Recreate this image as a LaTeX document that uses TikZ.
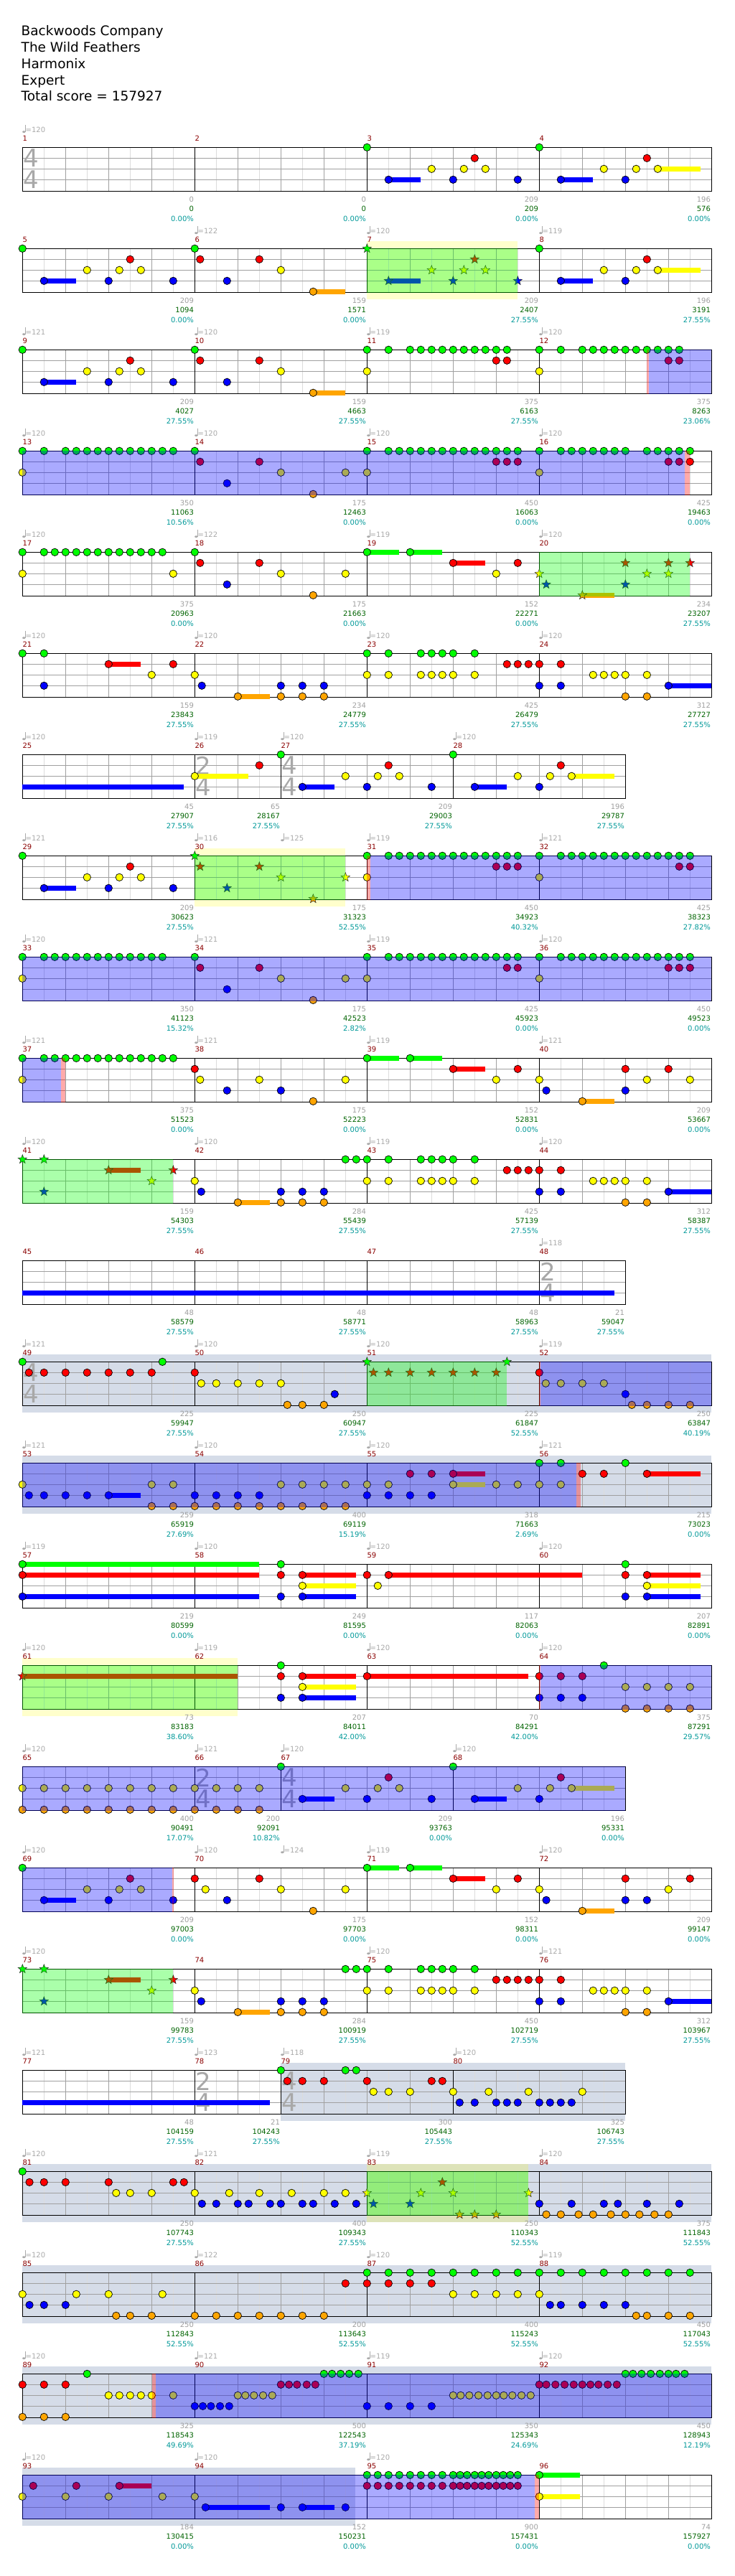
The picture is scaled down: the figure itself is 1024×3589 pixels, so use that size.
\documentclass[tikz,border=0pt]{standalone}
\usepackage{fontspec}
\setmainfont{DejaVu Sans}
\usetikzlibrary{shapes.geometric}
\definecolor{cG}{RGB}{0,255,0}
\definecolor{cR}{RGB}{255,0,0}
\definecolor{cY}{RGB}{255,255,0}
\definecolor{cB}{RGB}{0,0,255}
\definecolor{cO}{RGB}{255,165,0}
\definecolor{gridA}{RGB}{160,160,160}
\definecolor{gridB}{RGB}{220,220,220}
\definecolor{bandgray}{RGB}{213,220,232}
\definecolor{numgray}{RGB}{160,160,160}
\definecolor{numgreen}{RGB}{0,100,0}
\definecolor{numteal}{RGB}{0,153,153}
\definecolor{mnumc}{RGB}{139,0,0}
\definecolor{tsgray}{RGB}{168,168,168}
\definecolor{tempoc}{RGB}{170,170,170}
\newcommand\smallf{\fontsize{10}{10}\selectfont}
\newcommand\titlef{\fontsize{18.5}{20}\selectfont}
\def\yG{0}\def\yR{15}\def\yY{30}\def\yB{45}\def\yO{60}
\tikzset{
  starnote/.style={star,star points=5,star point ratio=2.4,minimum size=13pt,inner sep=0pt,draw=black!85,line width=0.5pt},
  mnum/.style={anchor=base west,inner sep=0pt,font=\smallf,text=mnumc},
  ngray/.style={anchor=base east,inner sep=0pt,font=\smallf,text=numgray},
  ngreen/.style={anchor=base east,inner sep=0pt,font=\smallf,text=numgreen},
  nteal/.style={anchor=base east,inner sep=0pt,font=\smallf,text=numteal},
  tsig/.style={inner sep=0pt,font=\fontsize{34}{34}\selectfont,text=tsgray},
  titletext/.style={anchor=base west,inner sep=0pt,font=\titlef,text=black}
}
\newcommand\zn[2]{\foreach \k in {#2}{\draw[line width=0.7pt,fill=c#1] ({31.3+15*\k},\csname y#1\endcsname) circle (5.2);}}
\newcommand\zst[2]{\foreach \k in {#2}{\node[starnote,fill=c#1] at ({31.3+15*\k},\csname y#1\endcsname) {};}}
\newcommand\zsus[3]{\fill[c#1] ({31.3+15*#2},{\csname y#1\endcsname-3.5}) rectangle ({31.3+15*#3},{\csname y#1\endcsname+3.5});}
\newcommand\zod[2]{\fill[cB,opacity=0.3333] ({31.3+15*#1},-0.6) rectangle ({31.3+15*#2},61.6);}
\newcommand\zsp[2]{\fill[cG,opacity=0.3333] ({31.3+15*#1},-0.6) rectangle ({31.3+15*#2},61.6);}
\newcommand\zpk[2]{\fill[cR,opacity=0.3333] ({31.3+15*#1},-0.6) rectangle ({31.3+15*#2},61.6);}
\newcommand\zgb[2]{\fill[bandgray] ({31.3+15*#1},-10) rectangle ({31.3+15*#2},71);}
\newcommand\zyb[2]{\fill[cY,opacity=0.2] ({31.3+15*#1},-10) rectangle ({31.3+15*#2},71);}
\newcommand\zts[3]{\node[tsig] at ({31.3+15*#1+12},15.2) {#2};\node[tsig] at ({31.3+15*#1+12},45.2) {#3};}
\newcommand\ztp[2]{%
  \fill[tempoc] ({31.3+15*#1+1.9},-21.6) ellipse (2 and 1.5);
  \draw[tempoc,line width=0.8pt] ({31.3+15*#1+3.6},-21.6) -- ({31.3+15*#1+3.6},-31);
  \node[anchor=base west,inner sep=0pt,font=\smallf,text=tempoc] at ({31.3+15*#1+4.2},-20.6) {=#2};}
\newcommand\zms[7]{%
  \node[mnum] at ({31.3+15*#1},-8.4) {#3};
  \if\relax\detokenize{#4}\relax\else\ztp{#1}{#4}\fi
  \node[ngray] at ({31.3+15*#2-1.2},76) {#5};
  \node[ngreen] at ({31.3+15*#2-1.2},89.4) {#6};
  \node[nteal] at ({31.3+15*#2-1.2},102.7) {#7};}
\newcommand\zstaff[2]{%
  \pgfmathsetmacro\zxe{31.3+15*#1}%
  \pgfmathtruncatemacro\zne{#1/2-1}%
  \foreach \j in {1,...,\zne}{\ifodd\j\relax \draw[gridB,line width=0.8pt] ({31.3+30*\j},0) -- ({31.3+30*\j},61);\fi}%
  \foreach \yy in {15,30,45}{\draw[gridA,line width=0.9pt] (31.3,\yy) -- (\zxe,\yy);}%
  \foreach \j in {1,...,\zne}{\ifodd\j\relax\else \draw[gridA,line width=0.8pt] ({31.3+30*\j},0) -- ({31.3+30*\j},61);\fi}%
  \foreach \m in {#2}{\draw[black,line width=0.8pt] ({31.3+15*\m},0) -- ({31.3+15*\m},61);}%
  \draw[black,line width=1.2pt] (31.3,0) rectangle (\zxe,61);}
\begin{document}
\begin{tikzpicture}[x=1pt,y=-1pt]
\useasboundingbox (0,0) rectangle (1024,3589);
\fill[white] (0,0) rectangle (1024,3589);
\node[titletext] (t1) at (29.5,49.5) {Backwoods Company};
\node[titletext] (t2) at (29.5,72.5) {The Wild Feathers};
\node[titletext] (t3) at (29.5,95.5) {Harmonix};
\node[titletext] (t4) at (29.5,118.5) {Expert};
\node[titletext] (t5) at (29.5,141) {Total score = 157927};
% Row 1
\begin{scope}[shift={(0,205.3)}]
\zstaff{64}{16,32,48}
\zts{0}{4}{4}
\zsus{Y}{59}{63}\zsus{B}{34}{37}\zsus{B}{50}{53}
\zn{G}{32,48}\zn{R}{42,58}\zn{Y}{38,41,43,54,57,59}\zn{B}{34,40,46,50,56}
\zms{0}{16}{1}{120}{0}{0}{0.00\%}
\zms{16}{32}{2}{}{0}{0}{0.00\%}
\zms{32}{48}{3}{}{209}{209}{0.00\%}
\zms{48}{64}{4}{}{196}{576}{0.00\%}
\end{scope}
% Row 2
\begin{scope}[shift={(0,346.3)}]
\zyb{32}{46}
\zstaff{64}{16,32,48}
\zsus{B}{2}{5}\zsus{O}{27}{30}\zsus{B}{34}{37}\zsus{B}{50}{53}\zsus{Y}{59}{63}
\zn{G}{0,16,48}\zn{R}{10,16.5,22,58}\zn{Y}{6,9,11,24,54,57,59}\zn{B}{2,8,14,19,50,56}\zn{O}{27}
\zst{G}{32}\zst{R}{42}\zst{Y}{38,41,43}\zst{B}{34,40,46}
\zsp{32}{46}
\zms{0}{16}{5}{}{209}{1094}{0.00\%}
\zms{16}{32}{6}{122}{159}{1571}{0.00\%}
\zms{32}{48}{7}{120}{209}{2407}{27.55\%}
\zms{48}{64}{8}{119}{196}{3191}{27.55\%}
\end{scope}
% Row 3
\begin{scope}[shift={(0,487.3)}]
\zstaff{64}{16,32,48}
\zsus{B}{2}{5}\zsus{O}{27}{30}
\zn{G}{0,16,32,34,36,37,38,39,40,41,42,43,44,45,48,50,52,53,54,55,56,57,58,59,60,61}
\zn{R}{10,16.5,22,44,45,60,61}
\zn{Y}{6,9,11,24,32,48}
\zn{B}{2,8,14,19}
\zn{O}{27}
\zpk{57.95}{58.21}\zod{58.21}{64}
\zms{0}{16}{9}{121}{209}{4027}{27.55\%}
\zms{16}{32}{10}{120}{159}{4663}{27.55\%}
\zms{32}{48}{11}{119}{375}{6163}{27.55\%}
\zms{48}{64}{12}{120}{375}{8263}{23.06\%}
\end{scope}
% Row 4
\begin{scope}[shift={(0,628.3)}]
\zstaff{64}{16,32,48}
\zn{G}{0,2,4,5,6,7,8,9,10,11,12,13,14,16,32,34,35,36,37,38,39,40,41,42,43,44,45,46,48,50,51,52,53,54,55,56,58,59,60,61,62}
\zn{R}{16.5,22,44,45,46,60,61,62}
\zn{Y}{0,24,30,32,48}
\zn{B}{19}
\zn{O}{27}
\zod{0}{61.51}\zpk{61.51}{61.98}
\zms{0}{16}{13}{120}{350}{11063}{10.56\%}
\zms{16}{32}{14}{120}{175}{12463}{0.00\%}
\zms{32}{48}{15}{120}{450}{16063}{0.00\%}
\zms{48}{64}{16}{120}{425}{19463}{0.00\%}
\end{scope}
% Row 5
\begin{scope}[shift={(0,769.3)}]
\zstaff{64}{16,32,48}
\zsus{G}{32}{35}\zsus{G}{36}{39}\zsus{R}{40}{43}\zsus{O}{52}{55}
\zn{G}{0,2,3,4,5,6,7,8,9,10,11,12,13,16,32,36}
\zn{R}{16.5,22,40,46}
\zn{Y}{0,14,24,30,44}
\zn{B}{19}
\zn{O}{27}
\zst{R}{56,60,62}\zst{Y}{48,58,60}\zst{B}{48.65,56}\zst{O}{52}
\zsp{48}{62}
\zms{0}{16}{17}{120}{375}{20963}{0.00\%}
\zms{16}{32}{18}{122}{175}{21663}{0.00\%}
\zms{32}{48}{19}{119}{152}{22271}{0.00\%}
\zms{48}{64}{20}{120}{234}{23207}{27.55\%}
\end{scope}
% Row 6
\begin{scope}[shift={(0,910.3)}]
\zstaff{64}{16,32,48}
\zsus{R}{8}{11}\zsus{O}{20}{23}\zsus{B}{60}{64}
\zn{G}{0,2,32,34,37,38,39,40,42}
\zn{R}{8,14,45,46,47,48,50}
\zn{Y}{12,16,32,34,37,38,39,40,42,53,54,55,56,58}
\zn{B}{2,16.66,24,26,28,48,50,60}
\zn{O}{20,24,26,28,56,58}
\zms{0}{16}{21}{120}{159}{23843}{27.55\%}
\zms{16}{32}{22}{120}{234}{24779}{27.55\%}
\zms{32}{48}{23}{120}{425}{26479}{27.55\%}
\zms{48}{64}{24}{120}{312}{27727}{27.55\%}
\end{scope}
% Row 7
\begin{scope}[shift={(0,1051.3)}]
\zstaff{56}{16,24,40}
\zts{16}{2}{4}\zts{24}{4}{4}
\zsus{B}{0}{15}\zsus{Y}{16}{21}\zsus{B}{26}{29}\zsus{B}{42}{45}\zsus{Y}{51}{55}
\zn{G}{24,40}
\zn{R}{22,34,50}
\zn{Y}{16,30,33,35,46,49,51}
\zn{B}{26,32,38,42,48}
\zms{0}{16}{25}{120}{45}{27907}{27.55\%}
\zms{16}{24}{26}{119}{65}{28167}{27.55\%}
\zms{24}{40}{27}{120}{209}{29003}{27.55\%}
\zms{40}{56}{28}{120}{196}{29787}{27.55\%}
\end{scope}
% Row 8
\begin{scope}[shift={(0,1192.3)}]
\zyb{16}{30}
\zstaff{64}{16,32,48}
\zsus{B}{2}{5}
\zn{G}{0,32,34,35,36,37,38,39,40,41,42,43,44,45,46,48,50,51,52,53,54,55,56,57,58,59,60,61,62}
\zn{R}{10,44,45,46,61,62}
\zn{Y}{6,9,11,32,48}
\zn{B}{2,8,14}
\zst{G}{16}\zst{R}{16.5,22}\zst{Y}{24,30}\zst{B}{19}\zst{O}{27}
\zsp{16}{30}
\zpk{32}{32.28}\zod{32.28}{64}
\zms{0}{16}{29}{121}{209}{30623}{27.55\%}
\zms{16}{32}{30}{116}{175}{31323}{52.55\%}
\ztp{24}{125}
\zms{32}{48}{31}{119}{450}{34923}{40.32\%}
\zms{48}{64}{32}{121}{425}{38323}{27.82\%}
\end{scope}
% Row 9
\begin{scope}[shift={(0,1333.3)}]
\zstaff{64}{16,32,48}
\zn{G}{0,2,3,4,5,6,7,8,9,10,11,12,13,16,32,34,35,36,37,38,39,40,41,42,43,44,45,46,48,50,51,52,53,54,55,56,57,58,59,60,61,62}
\zn{R}{16.5,22,45,46,60,61,62}
\zn{Y}{0,24,30,32,48}
\zn{B}{19}
\zn{O}{27}
\zod{0}{64}
\zms{0}{16}{33}{120}{350}{41123}{15.32\%}
\zms{16}{32}{34}{121}{175}{42523}{2.82\%}
\zms{32}{48}{35}{119}{425}{45923}{0.00\%}
\zms{48}{64}{36}{120}{450}{49523}{0.00\%}
\end{scope}
% Row 10
\begin{scope}[shift={(0,1474.3)}]
\zstaff{64}{16,32,48}
\zsus{G}{32}{35}\zsus{G}{36}{39}\zsus{R}{40}{43}\zsus{O}{52}{55}
\zn{G}{0,2,3,4,5,6,7,8,9,10,11,12,13,14,32,36}
\zn{R}{16,40,46,56,60}
\zn{Y}{0,16.5,22,30,44,48,58,62}
\zn{B}{19,24,48.65,56}
\zn{O}{27,52}
\zod{0}{3.58}\zpk{3.58}{4.0}
\zms{0}{16}{37}{121}{375}{51523}{0.00\%}
\zms{16}{32}{38}{121}{175}{52223}{0.00\%}
\zms{32}{48}{39}{119}{152}{52831}{0.00\%}
\zms{48}{64}{40}{121}{209}{53667}{0.00\%}
\end{scope}
% Row 11
\begin{scope}[shift={(0,1615.3)}]
\zstaff{64}{16,32,48}
\zsus{R}{8}{11}\zsus{O}{20}{23}\zsus{B}{60}{64}
\zst{G}{0,2}\zst{R}{8,14}\zst{Y}{12}\zst{B}{2}
\zn{G}{30,31,32,34,37,38,39,40,42}
\zn{R}{45,46,47,48,50}
\zn{Y}{16,32,34,37,38,39,40,42,53,54,55,56,58}
\zn{B}{16.6,24,26,28,48,50,60}
\zn{O}{20,24,26,28,56,58}
\zsp{0}{14}
\zms{0}{16}{41}{120}{159}{54303}{27.55\%}
\zms{16}{32}{42}{120}{284}{55439}{27.55\%}
\zms{32}{48}{43}{119}{425}{57139}{27.55\%}
\zms{48}{64}{44}{120}{312}{58387}{27.55\%}
\end{scope}
% Row 12
\begin{scope}[shift={(0,1756.3)}]
\zstaff{56}{16,32,48}
\zts{48}{2}{4}
\zsus{B}{0}{55}
\zms{0}{16}{45}{}{48}{58579}{27.55\%}
\zms{16}{32}{46}{}{48}{58771}{27.55\%}
\zms{32}{48}{47}{}{48}{58963}{27.55\%}
\zms{48}{56}{48}{118}{21}{59047}{27.55\%}
\end{scope}
% Row 13
\begin{scope}[shift={(0,1897.3)}]
\zgb{0}{64}
\zstaff{64}{16,32,48}
\zts{0}{4}{4}
\zn{G}{0,13}
\zn{R}{0.6,2,4,6,8,10,12,16,48}
\zn{Y}{16.6,18,20,22,24,48.6,50,52,54}
\zn{B}{29,56}
\zn{O}{24.6,26,28,56.6,58,60,62}
\zst{G}{32,45}\zst{R}{32.6,34,36,38,40,42,44}
\zsp{32}{45}
\zpk{47.95}{48.1}\zod{48.1}{64}
\zms{0}{16}{49}{121}{225}{59947}{27.55\%}
\zms{16}{32}{50}{120}{250}{60947}{27.55\%}
\zms{32}{48}{51}{120}{225}{61847}{52.55\%}
\zms{48}{64}{52}{119}{250}{63847}{40.19\%}
\end{scope}
% Row 14
\begin{scope}[shift={(0,2038.3)}]
\zgb{0}{64}
\zstaff{64}{16,32,48}
\zsus{R}{40}{43}\zsus{Y}{40}{43}\zsus{B}{8}{11}\zsus{R}{58}{63}
\zn{G}{48,50,56}
\zn{R}{36,38,40,52,54,58}
\zn{Y}{0,12,14,24,26,28,30,32,34,40,44,46,48,50}
\zn{B}{0.6,2,4,6,8,16,18,20,22,32,34,36,38}
\zn{O}{12,14,16,18,20,22,24,26,28,30}
\zod{0}{51.43}\zpk{51.43}{51.85}
\zms{0}{16}{53}{121}{259}{65919}{27.69\%}
\zms{16}{32}{54}{120}{400}{69119}{15.19\%}
\zms{32}{48}{55}{120}{318}{71663}{2.69\%}
\zms{48}{64}{56}{121}{215}{73023}{0.00\%}
\end{scope}
% Row 15
\begin{scope}[shift={(0,2179.3)}]
\zstaff{64}{16,32,48}
\zsus{G}{0}{22}\zsus{R}{0}{22}\zsus{B}{0}{22}\zsus{R}{26}{31}\zsus{Y}{26}{31}\zsus{B}{26}{31}\zsus{R}{34}{52}\zsus{R}{58}{63}\zsus{Y}{58}{63}\zsus{B}{58}{63}
\zn{G}{0,24,56}
\zn{R}{0,24,26,32,34,56,58}
\zn{Y}{26,33,58}
\zn{B}{0,24,26,56,58}
\zms{0}{16}{57}{119}{219}{80599}{0.00\%}
\zms{16}{32}{58}{120}{249}{81595}{0.00\%}
\zms{32}{48}{59}{120}{117}{82063}{0.00\%}
\zms{48}{64}{60}{120}{207}{82891}{0.00\%}
\end{scope}
% Row 16
\begin{scope}[shift={(0,2320.3)}]
\zyb{0}{20}
\zstaff{64}{16,32,48}
\zsus{R}{0}{20}\zsus{R}{26}{31}\zsus{Y}{26}{31}\zsus{B}{26}{31}\zsus{R}{32}{47}
\zst{R}{0}
\zn{G}{24,54}
\zn{R}{24,26,32,48,50,52}
\zn{Y}{26,56,58,60,62}
\zn{B}{24,26,48,50,52}
\zn{O}{56,58,60,62}
\zsp{0}{20}
\zpk{47.95}{48.1}\zod{48.1}{64}
\zms{0}{16}{61}{120}{73}{83183}{38.60\%}
\zms{16}{32}{62}{119}{207}{84011}{42.00\%}
\zms{32}{48}{63}{120}{70}{84291}{42.00\%}
\zms{48}{64}{64}{120}{375}{87291}{29.57\%}
\end{scope}
% Row 17
\begin{scope}[shift={(0,2461.3)}]
\zstaff{56}{16,24,40}
\zts{16}{2}{4}\zts{24}{4}{4}
\zsus{B}{26}{29}\zsus{B}{42}{45}\zsus{Y}{51}{55}
\zn{G}{24,40}
\zn{R}{34,50}
\zn{Y}{0,2,4,6,8,10,12,14,16,18,20,22,30,33,35,46,49,51}
\zn{B}{26,32,38,42,48}
\zn{O}{0,2,4,6,8,10,12,14,16,18,20,22}
\zod{0}{56}
\zms{0}{16}{65}{120}{400}{90491}{17.07\%}
\zms{16}{24}{66}{121}{200}{92091}{10.82\%}
\zms{24}{40}{67}{120}{209}{93763}{0.00\%}
\zms{40}{56}{68}{120}{196}{95331}{0.00\%}
\end{scope}
% Row 18
\begin{scope}[shift={(0,2602.3)}]
\zstaff{64}{16,32,48}
\zsus{B}{2}{5}\zsus{G}{32}{35}\zsus{G}{36}{39}\zsus{R}{40}{43}\zsus{O}{52}{55}
\zn{G}{0,32,36}
\zn{R}{10,16,22,40,46,56,62}
\zn{Y}{6,9,11,17,24,30,44,48,60}
\zn{B}{2,8,14,19,48.65,56,58}
\zn{O}{27,52}
\zod{0}{13.88}\zpk{13.88}{14.05}
\zms{0}{16}{69}{120}{209}{97003}{0.00\%}
\zms{16}{32}{70}{120}{175}{97703}{0.00\%}
\ztp{24}{124}
\zms{32}{48}{71}{119}{152}{98311}{0.00\%}
\zms{48}{64}{72}{120}{209}{99147}{0.00\%}
\end{scope}
% Row 19
\begin{scope}[shift={(0,2743.3)}]
\zstaff{64}{16,32,48}
\zsus{R}{8}{11}\zsus{O}{20}{23}\zsus{B}{60}{64}
\zst{G}{0,2}\zst{R}{8,14}\zst{Y}{12}\zst{B}{2}
\zn{G}{30,31,32,34,37,38,39,40,42}
\zn{R}{44,45,46,47,48,50}
\zn{Y}{16,32,34,37,38,39,40,42,53,54,55,56,58}
\zn{B}{16.6,24,26,28,48,50,60}
\zn{O}{20,24,26,28,56,58}
\zsp{0}{14}
\zms{0}{16}{73}{120}{159}{99783}{27.55\%}
\zms{16}{32}{74}{}{284}{100919}{27.55\%}
\zms{32}{48}{75}{120}{450}{102719}{27.55\%}
\zms{48}{64}{76}{121}{312}{103967}{27.55\%}
\end{scope}
% Row 20
\begin{scope}[shift={(0,2884.3)}]
\zgb{24}{56}
\zstaff{56}{16,24,40}
\zts{16}{2}{4}\zts{24}{4}{4}
\zsus{B}{0}{23}
\zn{G}{24,30,31}
\zn{R}{24.6,26,28,32,38,39}
\zn{Y}{32.6,34,36,40,43.3,47,52}
\zn{B}{40.6,42,44,45,46,48,49,50,51}
\zms{0}{16}{77}{121}{48}{104159}{27.55\%}
\zms{16}{24}{78}{123}{21}{104243}{27.55\%}
\zms{24}{40}{79}{118}{300}{105443}{27.55\%}
\zms{40}{56}{80}{120}{325}{106743}{27.55\%}
\end{scope}
% Row 21
\begin{scope}[shift={(0,3025.3)}]
\zgb{0}{64}\zyb{32}{47}
\zstaff{64}{16,32,48}
\zn{G}{0}
\zn{R}{0.65,2,4,8,14,15}
\zn{Y}{8.7,10,12,16,19.2,22,25,28,30}
\zn{B}{16.67,18,20,21,23,24,26,27,29,31,48,51,54,55.3,58,61}
\zn{O}{48.65,50,51.65,53,54.65,56,57.3,58.7,60}
\zst{R}{39}\zst{Y}{32,37,40,47}\zst{B}{32.6,36}\zst{O}{40.6,42,44}
\zsp{32}{47}
\zms{0}{16}{81}{120}{250}{107743}{27.55\%}
\zms{16}{32}{82}{121}{400}{109343}{27.55\%}
\zms{32}{48}{83}{119}{250}{110343}{52.55\%}
\zms{48}{64}{84}{120}{375}{111843}{52.55\%}
\end{scope}
% Row 22
\begin{scope}[shift={(0,3166.3)}]
\zgb{0}{64}
\zstaff{64}{16,32,48}
\zn{G}{32,34,36,38,40,42,44,46,48,50,52,54,56,58,60,62}
\zn{R}{30,32,34,36,38}
\zn{Y}{0,5,8,13,40,42,44,46,48}
\zn{B}{0.65,2,4,49,50,52,54,56}
\zn{O}{8.7,10,12,16,18,20,22,24,26,28,57,58,60,62}
\zms{0}{16}{85}{120}{250}{112843}{52.55\%}
\zms{16}{32}{86}{122}{200}{113643}{52.55\%}
\zms{32}{48}{87}{120}{400}{115243}{52.55\%}
\zms{48}{64}{88}{119}{450}{117043}{52.55\%}
\end{scope}
% Row 23
\begin{scope}[shift={(0,3307.3)}]
\zgb{0}{64}
\zstaff{64}{16,32,48}
\zn{G}{6,28,28.75,29.55,30.35,31.2,56,56.7,57.5,58.35,59.2,60,60.7,61.5}
\zn{R}{0,2,4,24,24.75,25.5,26.4,27.2,48,48.65,49.5,50.35,51.2,52,52.75,53.5,54.35,55.2}
\zn{Y}{8,9,10,11,12,14,20,20.7,21.5,22.35,23.2,40,40.7,41.5,42.35,43.2,44,44.7,45.5,46.35,47.2}
\zn{B}{16,16.75,17.5,18.35,19.2,32,34,36,38}
\zn{O}{0,2,4}
\zpk{12.05}{12.35}\zod{12.35}{64}
\zms{0}{16}{89}{120}{325}{118543}{49.69\%}
\zms{16}{32}{90}{121}{500}{122543}{37.19\%}
\zms{32}{48}{91}{119}{350}{125343}{24.69\%}
\zms{48}{64}{92}{120}{450}{128943}{12.19\%}
\end{scope}
% Row 24
\begin{scope}[shift={(0,3448.3)}]
\zgb{0}{30.9}
\zstaff{64}{16,32,48}
\zsus{R}{9}{12}\zsus{B}{17}{23}\zsus{B}{26}{29}\zsus{G}{48}{51.8}\zsus{Y}{48}{51.8}
\zn{G}{32,33,34,35,36,37,38,39,40,40.65,41.3,42,42.65,43.3,44,44.65,45.3,46,48}
\zn{R}{1,5,9,32,33,34,35,36,37,38,39,40,40.65,41.3,42,42.65,43.3,44,44.65,45.3,46}
\zn{Y}{0,4,8,13,16,48}
\zn{B}{17,24,26,30}
\zod{0}{47.56}\zpk{47.56}{47.95}
\zms{0}{16}{93}{120}{184}{130415}{0.00\%}
\zms{16}{32}{94}{120}{152}{150231}{0.00\%}
\zms{32}{48}{95}{120}{900}{157431}{0.00\%}
\zms{48}{64}{96}{}{74}{157927}{0.00\%}
\end{scope}
\end{tikzpicture}
\end{document}
